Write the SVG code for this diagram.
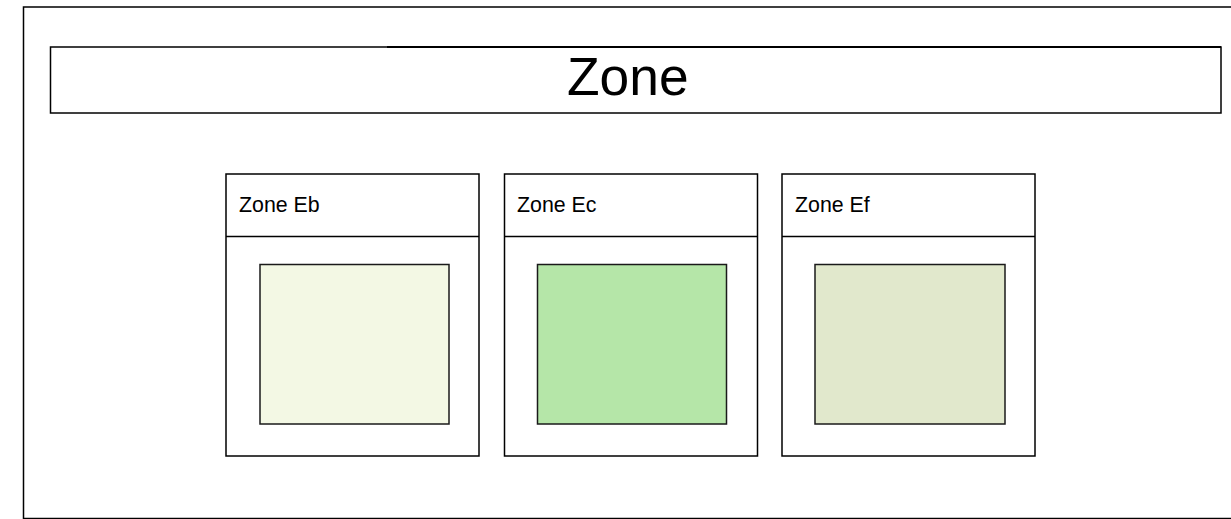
<svg xmlns="http://www.w3.org/2000/svg" width="1231" height="519" viewBox="0 0 1231 519">
<style>
.frame{fill:#ffffff;stroke:#000000;stroke-width:1.5}
.box{fill:#ffffff;stroke:#000000;stroke-width:1.5}
.inner{stroke:#1a1a1a;stroke-width:1.5}
.lbl{font-family:"Liberation Sans",Arial,sans-serif;font-size:21.33px;fill:#000000}
.title{font-family:"Liberation Sans",Arial,sans-serif;font-size:53.33px;fill:#000000}
</style>
<rect width="1231" height="519" fill="#ffffff"/>
<g id="outer">
<rect class="frame" x="23.5" y="7" width="1220" height="511.5"/>
</g>
<g id="title">
<rect class="frame" x="50.5" y="47" width="1170.5" height="66"/>
<line x1="387" y1="47" x2="1221" y2="47" stroke="#000" stroke-width="2"/>
<text class="title" x="567" y="95">Zone</text>
</g>
<g id="zoneEb">
<rect class="box" x="226" y="174" width="253" height="282"/>
<line x1="226" y1="236.5" x2="479" y2="236.5" stroke="#000" stroke-width="1.5"/>
<text class="lbl" x="239" y="212">Zone Eb</text>
<rect class="inner" x="260" y="264.5" width="189" height="159.5" fill="#f3f8e4"/>
</g>
<g id="zoneEc">
<rect class="box" x="504.5" y="174" width="253" height="282"/>
<line x1="504.5" y1="236.5" x2="757.5" y2="236.5" stroke="#000" stroke-width="1.5"/>
<text class="lbl" x="517" y="212">Zone Ec</text>
<rect class="inner" x="537.5" y="264.5" width="189" height="159.5" fill="#b5e6a8"/>
</g>
<g id="zoneEf">
<rect class="box" x="782" y="174" width="253" height="282"/>
<line x1="782" y1="236.5" x2="1035" y2="236.5" stroke="#000" stroke-width="1.5"/>
<text class="lbl" x="795" y="212">Zone Ef</text>
<rect class="inner" x="815" y="264.5" width="190" height="159.5" fill="#e1e8cc"/>
</g>
<g id="connectors"></g>
</svg>
